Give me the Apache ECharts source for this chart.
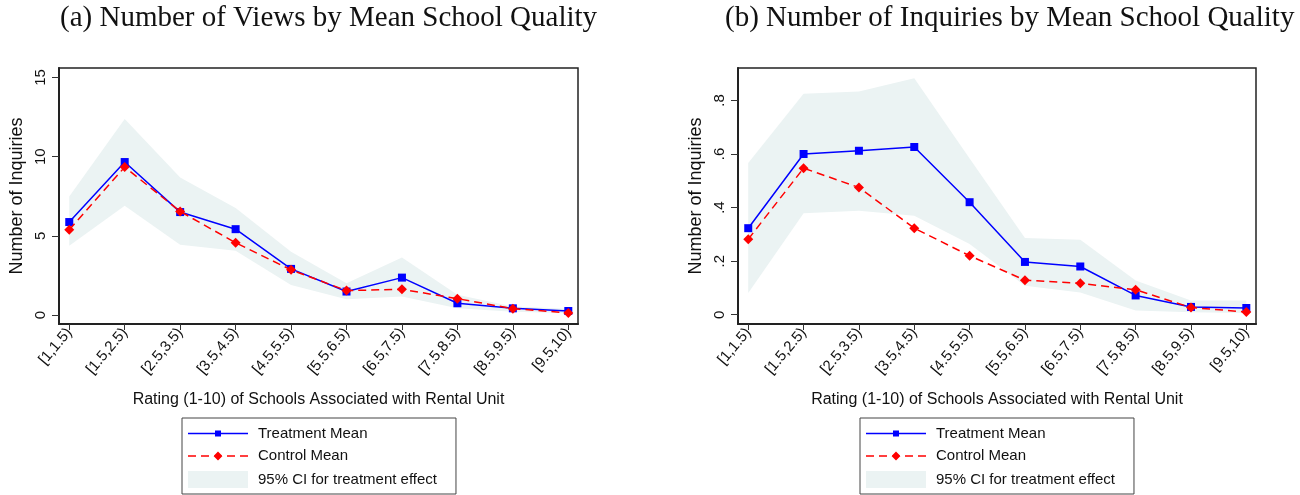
<!DOCTYPE html>
<html>
<head>
<meta charset="utf-8">
<script src="https://cdn.jsdelivr.net/npm/echarts@6/dist/echarts.min.js"></script>
<style>
html,body{margin:0;padding:0;background:#fff;}
#chart{width:1300px;height:495px;}
</style>
</head>
<body>
<div id="chart"></div>
<script>
const categories = ['[1,1.5)', '[1.5,2.5)', '[2.5,3.5)', '[3.5,4.5)', '[4.5,5.5)', '[5.5,6.5)', '[6.5,7.5)', '[7.5,8.5)', '[8.5,9.5)', '[9.5,10)'];

const viewsTreatment = [5.87, 9.66, 6.50, 5.42, 2.91, 1.48, 2.36, 0.74, 0.42, 0.25];
const viewsControl   = [5.38, 9.34, 6.54, 4.56, 2.85, 1.54, 1.62, 1.03, 0.40, 0.13];
const viewsCIUpper   = [7.49, 12.38, 8.69, 6.75, 4.00, 2.00, 3.63, 1.27, 0.53, 0.40];
const viewsCILower   = [4.37, 6.90, 4.43, 4.05, 1.90, 0.99, 1.16, 0.42, 0.21, 0.11];

const inqTreatment = [0.323, 0.600, 0.612, 0.626, 0.420, 0.197, 0.180, 0.072, 0.029, 0.025];
const inqControl   = [0.282, 0.547, 0.475, 0.323, 0.220, 0.129, 0.117, 0.093, 0.027, 0.010];
const inqCIUpper   = [0.566, 0.825, 0.833, 0.883, 0.583, 0.286, 0.280, 0.128, 0.053, 0.053];
const inqCILower   = [0.081, 0.379, 0.388, 0.369, 0.264, 0.108, 0.083, 0.016, 0.009, 0.006];

const viewsYTicks = [0, 5, 10, 15];
const inqYTicks = [0, 0.2, 0.4, 0.6, 0.8];

const titleA = '(a) Number of Views by Mean School Quality';
const titleB = '(b) Number of Inquiries by Mean School Quality';
const yName = 'Number of Inquiries';
const xName = 'Rating (1-10) of Schools Associated with Rental Unit';
const nameT = 'Treatment Mean', nameC = 'Control Mean', nameCI = '95% CI for treatment effect';

const SANS = 'Liberation Sans, Arial, sans-serif';
const SERIF = 'Liberation Serif, Times New Roman, serif';
const BAND = '#ebf3f3';
const idx = categories.map((_, i) => i);
const pairs = arr => arr.map((v, i) => [i, v]);

// legend icons (line + marker), drawn in a 60-wide box
const ICON_T = 'path://M0,2.25L27,2.25L27,0L33,0L33,2.25L60,2.25L60,3.75L33,3.75L33,6L27,6L27,3.75L0,3.75Z';
const ICON_C = 'path://M0,3.75L8,3.75L8,5.25L0,5.25Z M13,3.75L21,3.75L21,5.25L13,5.25Z M26,3.75L34,3.75L34,5.25L26,5.25Z M39,3.75L47,3.75L47,5.25L39,5.25Z M52,3.75L60,3.75L60,5.25L52,5.25Z M30,0L34.5,4.5L30,9L25.5,4.5Z';

function xAxisCfg(gi) {
  return {
    type: 'value', gridIndex: gi, min: -0.185, max: 9.175,
    splitLine: {show: false},
    axisLine: {show: true, onZero: false, lineStyle: {color: '#222', width: 2}},
    axisTick: {show: true, length: 6, lineStyle: {color: '#333', width: 1}, customValues: idx},
    axisLabel: {show: true, customValues: idx, rotate: 50, margin: 6,
      fontFamily: SANS, fontSize: 15, color: '#111',
      formatter: v => categories[Math.round(v)]},
    name: xName, nameLocation: 'middle', nameGap: 68,
    nameTextStyle: {fontFamily: SANS, fontSize: 16, color: '#111'}
  };
}
function yAxisCfg(gi, min, max, ticks, fmt) {
  return {
    type: 'value', gridIndex: gi, min: min, max: max,
    splitLine: {show: false},
    axisLine: {show: true, onZero: false, lineStyle: {color: '#222', width: 2}},
    axisTick: {show: true, length: 7, lineStyle: {color: '#333', width: 1}, customValues: ticks},
    axisLabel: {show: true, customValues: ticks, rotate: 90, margin: 11,
      fontFamily: SANS, fontSize: 15, color: '#111', formatter: fmt},
    name: yName, nameLocation: 'middle', nameGap: 33,
    nameTextStyle: {fontFamily: SANS, fontSize: 18, color: '#111'}
  };
}
function seriesFor(gi, tr, ct, lo, up) {
  return [
    {name: nameCI, type: 'custom', xAxisIndex: gi, yAxisIndex: gi,
     data: pairs(up), encode: {x: 0, y: 1}, silent: true, z: 1,
     itemStyle: {color: BAND},
     renderItem: (params, api) => {
       if (params.dataIndex !== 0) return null;
       const top = up.map((v, i) => api.coord([i, v]));
       const bot = lo.map((v, i) => api.coord([i, v])).reverse();
       return {type: 'polygon', shape: {points: top.concat(bot)}, style: {fill: BAND}};
     }},
    {name: nameT, type: 'line', xAxisIndex: gi, yAxisIndex: gi, data: pairs(tr),
     symbol: 'rect', symbolSize: 8, color: '#0000ff', itemStyle: {color: '#0000ff'},
     lineStyle: {color: '#0000ff', width: 1.5}, z: 3},
    {name: nameC, type: 'line', xAxisIndex: gi, yAxisIndex: gi, data: pairs(ct),
     symbol: 'diamond', symbolSize: 10, color: '#ff0000', itemStyle: {color: '#ff0000'},
     lineStyle: {color: '#ff0000', width: 1.5, type: [8, 5]}, z: 4}
  ];
}
function legendCfg(left) {
  return {
    left: left, top: 418, orient: 'vertical',
    itemWidth: 60, itemHeight: 17, itemGap: 7.5,
    padding: [8, 19, 6, 6], borderColor: '#444', borderWidth: 1,
    textStyle: {fontFamily: SANS, fontSize: 15, color: '#111', padding: [0, 0, 0, 5]},
    selectedMode: false,
    data: [
      {name: nameT, icon: ICON_T, itemStyle: {color: '#0000ff', borderWidth: 0}},
      {name: nameC, icon: ICON_C, itemStyle: {color: '#ff0000', borderWidth: 0}},
      {name: nameCI, icon: 'rect', itemStyle: {color: BAND, borderWidth: 0}}
    ]
  };
}

const chart = echarts.init(document.getElementById('chart'), null, {renderer: 'canvas'});
chart.setOption({
  animation: false,
  backgroundColor: '#fff',
  title: [
    {text: titleA, left: 60, top: 4, padding: 0,
     textStyle: {fontFamily: SERIF, fontSize: 29, fontWeight: 'normal', color: '#111'}},
    {text: titleB, left: 725, top: 4, padding: 0,
     textStyle: {fontFamily: SERIF, fontSize: 29, fontWeight: 'normal', color: '#111'}}
  ],
  grid: [
    {left: 59, right: 722, top: 68, bottom: 171, show: true, borderColor: '#222', borderWidth: 1.5, backgroundColor: 'transparent'},
    {left: 738, right: 44, top: 68, bottom: 171, show: true, borderColor: '#222', borderWidth: 1.5, backgroundColor: 'transparent'}
  ],
  xAxis: [xAxisCfg(0), xAxisCfg(1)],
  yAxis: [
    yAxisCfg(0, -0.57, 15.6, viewsYTicks, v => String(v)),
    yAxisCfg(1, -0.0347, 0.921, inqYTicks, v => v === 0 ? '0' : String(Math.round(v * 10) / 10).replace(/^0/, ''))
  ],
  legend: [legendCfg(182), legendCfg(860)],
  series: [].concat(
    seriesFor(0, viewsTreatment, viewsControl, viewsCILower, viewsCIUpper),
    seriesFor(1, inqTreatment, inqControl, inqCILower, inqCIUpper)
  )
});
</script>
</body>
</html>
